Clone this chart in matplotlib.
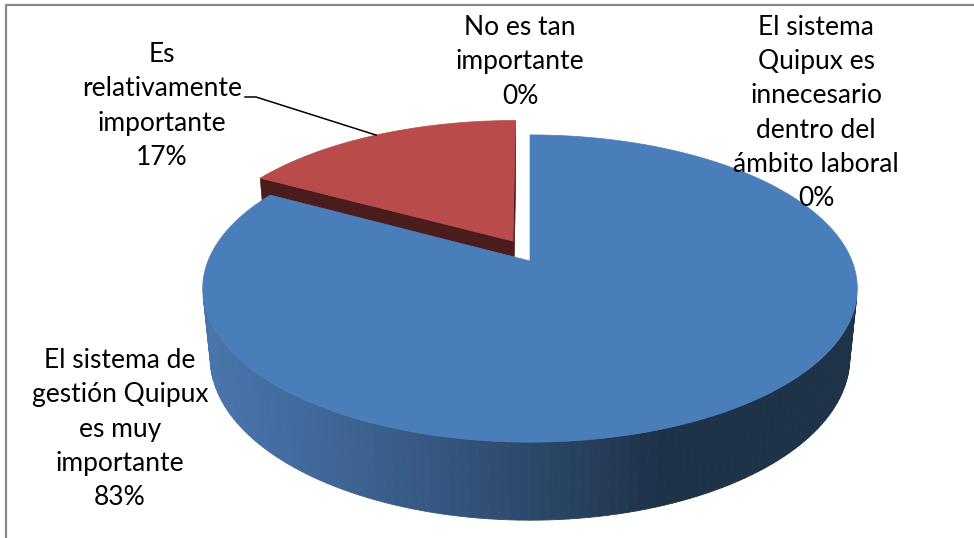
import numpy as np
import matplotlib
matplotlib.use("Agg")
import matplotlib.pyplot as plt
from matplotlib.patches import Polygon
from matplotlib.lines import Line2D

# ---------------- data ----------------
categories = [
    "El sistema de gestión Quipux es muy importante",
    "Es relativamente importante",
    "No es tan importante",
    "El sistema Quipux es innecesario dentro del ámbito laboral",
]
values = [83, 17, 0, 0]
pct_labels = ["83%", "17%", "0%", "0%"]
label_lines = [
    ["El sistema de", "gestión Quipux", "es muy", "importante"],
    ["Es", "relativamente", "importante"],
    ["No es tan", "importante"],
    ["El sistema", "Quipux es", "innecesario", "dentro del", "ámbito laboral"],
]
explode = [0.0, 0.148, 0.0, 0.0]
explode_turn = np.radians(-9.0)   # direction tweak of the explosion (style)

# ---------------- style ----------------
top_colors = ["#4a7ebb", "#b94c4a", "#9bbb59", "#8064a2"]
side_light = [np.array([72, 116, 172]), np.array([120, 40, 40]), np.array([120, 150, 70]), np.array([100, 80, 130])]
side_dark = [np.array([30, 50, 72]), np.array([75, 27, 27]), np.array([70, 90, 40]), np.array([60, 45, 80])]
radial_colors = ["#1f3349", "#4b1c1c", "#5d7035", "#4c3c61"]

W, H = 974, 538
S = 322.0            # pixels per unit radius
CX, CY = 530.0, 261.0  # pixel position of pie centre
phi = np.radians(27.5)
sn, cs = np.sin(phi), np.cos(phi)
F = 4.95             # perspective distance
T = 0.245            # pie thickness
eye = np.array([0.0, -F * cs, F * sn])


def proj(x, y, z):
    v = y * sn + z * cs
    d = y * cs - z * sn
    k = F / (F + d)
    return x * k, v * k


def px(x, y):
    return (x - CX) / S, (CY - y) / S


fig = plt.figure(figsize=(W / 100, H / 100), dpi=100)
ax = fig.add_axes([0, 0, 1, 1])
ax.set_xlim(-CX / S, (W - CX) / S)
ax.set_ylim(-(H - CY) / S, CY / S)
ax.axis("off")

total = float(sum(values))
slices = []
cum = 0.0
for i, v in enumerate(values):
    a0 = 90.0 - cum / total * 360.0
    a1 = 90.0 - (cum + v) / total * 360.0
    cum += v
    if v <= 0:
        continue
    mid = np.radians((a0 + a1) / 2)
    ed = mid + explode_turn
    ox, oy = explode[i] * np.cos(ed), explode[i] * np.sin(ed)
    slices.append((i, np.radians(a1), np.radians(a0), ox, oy, mid))


def slice_depth(sl):
    i, lo, hi, ox, oy, mid = sl
    return oy + 0.5 * np.sin(mid)


slices.sort(key=slice_depth, reverse=True)

for (i, lo, hi, ox, oy, mid) in slices:
    # radial faces
    for ang, nrm in ((hi, np.array([-np.sin(hi), np.cos(hi), 0.0])),
                     (lo, np.array([np.sin(lo), -np.cos(lo), 0.0]))):
        pmid = np.array([ox + 0.5 * np.cos(ang), oy + 0.5 * np.sin(ang), -T / 2])
        if np.dot(nrm, eye - pmid) > 1e-6:
            pts3 = [(ox, oy, 0), (ox + np.cos(ang), oy + np.sin(ang), 0),
                    (ox + np.cos(ang), oy + np.sin(ang), -T), (ox, oy, -T)]
            pts = [proj(*p) for p in pts3]
            ax.add_patch(Polygon(pts, closed=True, facecolor=radial_colors[i],
                                 edgecolor=radial_colors[i], lw=0.5))
    # outer side
    n = max(8, int(np.degrees(hi - lo) / 1.5))
    ts = np.linspace(lo, hi, n + 1)
    for j in range(n):
        t0, t1 = ts[j], ts[j + 1]
        tm = 0.5 * (t0 + t1)
        nrm = np.array([np.cos(tm), np.sin(tm), 0.0])
        pm = np.array([ox + np.cos(tm), oy + np.sin(tm), -T / 2])
        if np.dot(nrm, eye - pm) <= 0:
            continue
        shade = max(0.0, np.cos(tm - np.radians(200)))
        col = (side_dark[i] + (side_light[i] - side_dark[i]) * shade) / 255.0
        pts3 = [(ox + np.cos(t0), oy + np.sin(t0), 0), (ox + np.cos(t1), oy + np.sin(t1), 0),
                (ox + np.cos(t1), oy + np.sin(t1), -T), (ox + np.cos(t0), oy + np.sin(t0), -T)]
        pts = [proj(*p) for p in pts3]
        ax.add_patch(Polygon(pts, closed=True, facecolor=col, edgecolor=col, lw=0.6))
    # top face
    ts = np.linspace(lo, hi, 300)
    pts = [proj(ox, oy, 0)] + [proj(ox + np.cos(t), oy + np.sin(t), 0) for t in ts]
    ax.add_patch(Polygon(pts, closed=True, facecolor=top_colors[i],
                         edgecolor=top_colors[i], lw=0.5))

# ---------------- labels ----------------
font = "Lato"
fs = 19
line_step = 34.2
label_pos = [(120, 429), (162, 106), (520, 62), (816, 113)]
for i in range(len(values)):
    lines = label_lines[i] + [pct_labels[i]]
    cx, cy = label_pos[i]
    y0 = cy - line_step * (len(lines) - 1) / 2
    for k, ln in enumerate(lines):
        x, y = px(cx, y0 + k * line_step)
        ax.text(x, y, ln, ha="center", va="center", fontsize=fs,
                family=font, color="black")

# leader line for the exploded slice
for (i, lo, hi, ox, oy, mid) in slices:
    if explode[i] > 0:
        ex, ey = proj(ox + np.cos(mid), oy + np.sin(mid), 0)
        p1 = px(245, 97)
        p2 = px(256, 97)
        ax.add_line(Line2D([p1[0], p2[0], ex], [p1[1], p2[1], ey], color="black", lw=1.1))

# chart frame (top and left edges visible)
fa = px(6, 538)
fb = px(6, 5)
fc = px(974, 5)
ax.add_line(Line2D([fa[0], fb[0], fc[0]], [fa[1], fb[1], fc[1]], color="#878787", lw=1.6))

fig.savefig("out.png", dpi=100)
